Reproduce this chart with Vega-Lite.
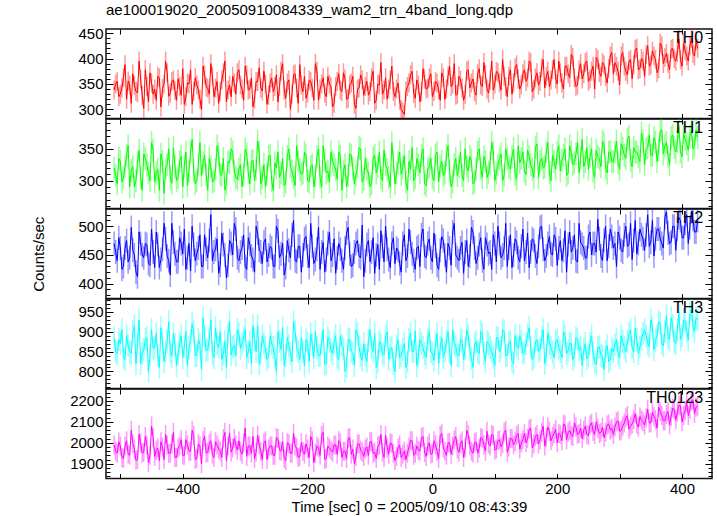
{
"$schema": "https://vega.github.io/schema/vega-lite/v6.json",
"background": "white",
"padding": {"left": 31, "top": 2, "right": 5, "bottom": 0},
"data": {"values": [
{"t":-510,"a":338,"b":320,"c":470,"d":885,"e":1990},
{"t":-505,"a":355,"b":295,"c":440,"d":845,"e":1950},
{"t":-500,"a":330,"b":330,"c":462,"d":870,"e":1985},
{"t":-495,"a":362,"b":305,"c":430,"d":835,"e":1925},
{"t":-490,"a":320,"b":340,"c":475,"d":890,"e":2010},
{"t":-485,"a":348,"b":290,"c":445,"d":850,"e":1940},
{"t":-480,"a":370,"b":322,"c":458,"d":900,"e":1995},
{"t":-475,"a":335,"b":300,"c":420,"d":820,"e":1915},
{"t":-470,"a":395,"b":348,"c":490,"d":930,"e":2040},
{"t":-465,"a":328,"b":285,"c":450,"d":845,"e":1950},
{"t":-460,"a":378,"b":335,"c":470,"d":880,"e":2030},
{"t":-455,"a":315,"b":312,"c":435,"d":800,"e":1905},
{"t":-450,"a":352,"b":360,"c":495,"d":905,"e":2080},
{"t":-445,"a":340,"b":298,"c":428,"d":860,"e":1935},
{"t":-440,"a":365,"b":318,"c":468,"d":840,"e":1975},
{"t":-435,"a":305,"b":342,"c":442,"d":910,"e":2005},
{"t":-430,"a":350,"b":280,"c":505,"d":825,"e":1920},
{"t":-425,"a":372,"b":325,"c":448,"d":875,"e":1990},
{"t":-420,"a":332,"b":305,"c":415,"d":850,"e":1950},
{"t":-415,"a":358,"b":352,"c":472,"d":895,"e":2050},
{"t":-410,"a":318,"b":300,"c":438,"d":815,"e":1930},
{"t":-405,"a":345,"b":330,"c":480,"d":870,"e":1985},
{"t":-400,"a":380,"b":290,"c":452,"d":835,"e":1940},
{"t":-395,"a":325,"b":345,"c":425,"d":900,"e":2015},
{"t":-390,"a":350,"b":315,"c":470,"d":860,"e":1960},
{"t":-385,"a":310,"b":365,"c":500,"d":920,"e":2060},
{"t":-380,"a":362,"b":295,"c":440,"d":840,"e":1920},
{"t":-375,"a":338,"b":325,"c":462,"d":880,"e":1995},
{"t":-370,"a":300,"b":308,"c":430,"d":805,"e":1900},
{"t":-365,"a":368,"b":340,"c":485,"d":890,"e":2030},
{"t":-360,"a":342,"b":285,"c":445,"d":855,"e":1955},
{"t":-355,"a":390,"b":322,"c":520,"d":930,"e":2010},
{"t":-350,"a":325,"b":300,"c":455,"d":835,"e":1930},
{"t":-345,"a":355,"b":355,"c":478,"d":870,"e":1990},
{"t":-340,"a":335,"b":310,"c":432,"d":900,"e":1960},
{"t":-335,"a":372,"b":335,"c":468,"d":845,"e":2020},
{"t":-330,"a":315,"b":295,"c":410,"d":810,"e":1915},
{"t":-325,"a":348,"b":328,"c":475,"d":925,"e":2045},
{"t":-320,"a":365,"b":345,"c":450,"d":860,"e":1975},
{"t":-315,"a":330,"b":305,"c":495,"d":840,"e":1990},
{"t":-310,"a":378,"b":318,"c":440,"d":895,"e":2010},
{"t":-305,"a":340,"b":290,"c":462,"d":870,"e":1945},
{"t":-300,"a":385,"b":350,"c":430,"d":905,"e":2070},
{"t":-295,"a":338,"b":312,"c":480,"d":850,"e":1985},
{"t":-290,"a":362,"b":330,"c":448,"d":820,"e":1950},
{"t":-285,"a":320,"b":300,"c":420,"d":880,"e":1925},
{"t":-280,"a":355,"b":362,"c":488,"d":915,"e":2035},
{"t":-275,"a":342,"b":295,"c":455,"d":845,"e":1960},
{"t":-270,"a":375,"b":325,"c":472,"d":870,"e":2000},
{"t":-265,"a":310,"b":310,"c":438,"d":830,"e":1920},
{"t":-260,"a":352,"b":340,"c":465,"d":890,"e":1985},
{"t":-255,"a":335,"b":285,"c":430,"d":860,"e":1940},
{"t":-250,"a":368,"b":320,"c":500,"d":800,"e":2025},
{"t":-245,"a":345,"b":305,"c":445,"d":875,"e":1965},
{"t":-240,"a":390,"b":335,"c":470,"d":910,"e":2005},
{"t":-235,"a":322,"b":298,"c":428,"d":840,"e":1915},
{"t":-230,"a":358,"b":350,"c":458,"d":865,"e":1995},
{"t":-225,"a":330,"b":315,"c":485,"d":825,"e":1950},
{"t":-220,"a":370,"b":292,"c":440,"d":900,"e":1985},
{"t":-215,"a":312,"b":330,"c":465,"d":850,"e":1930},
{"t":-210,"a":348,"b":310,"c":420,"d":885,"e":2000},
{"t":-205,"a":365,"b":345,"c":478,"d":815,"e":1945},
{"t":-200,"a":332,"b":300,"c":448,"d":870,"e":1970},
{"t":-195,"a":355,"b":322,"c":505,"d":895,"e":2030},
{"t":-190,"a":318,"b":290,"c":435,"d":835,"e":1905},
{"t":-185,"a":375,"b":338,"c":460,"d":860,"e":1985},
{"t":-180,"a":340,"b":305,"c":425,"d":840,"e":1940},
{"t":-175,"a":362,"b":355,"c":472,"d":905,"e":2050},
{"t":-170,"a":325,"b":312,"c":442,"d":820,"e":1925},
{"t":-165,"a":350,"b":298,"c":490,"d":875,"e":1975},
{"t":-160,"a":305,"b":330,"c":450,"d":845,"e":1955},
{"t":-155,"a":345,"b":318,"c":418,"d":890,"e":1990},
{"t":-150,"a":370,"b":345,"c":470,"d":830,"e":2010},
{"t":-145,"a":335,"b":285,"c":440,"d":865,"e":1930},
{"t":-140,"a":360,"b":325,"c":462,"d":800,"e":1960},
{"t":-135,"a":322,"b":308,"c":498,"d":880,"e":2020},
{"t":-130,"a":352,"b":340,"c":430,"d":850,"e":1945},
{"t":-125,"a":310,"b":295,"c":455,"d":815,"e":1900},
{"t":-120,"a":340,"b":322,"c":475,"d":895,"e":1995},
{"t":-115,"a":368,"b":350,"c":445,"d":840,"e":1965},
{"t":-110,"a":328,"b":302,"c":412,"d":870,"e":1935},
{"t":-105,"a":355,"b":318,"c":468,"d":825,"e":1980},
{"t":-100,"a":335,"b":290,"c":438,"d":905,"e":2005},
{"t":-95,"a":375,"b":335,"c":480,"d":850,"e":1950},
{"t":-90,"a":318,"b":312,"c":450,"d":810,"e":1925},
{"t":-85,"a":348,"b":345,"c":425,"d":875,"e":1990},
{"t":-80,"a":330,"b":300,"c":465,"d":845,"e":1955},
{"t":-75,"a":362,"b":325,"c":500,"d":890,"e":2035},
{"t":-70,"a":340,"b":305,"c":442,"d":830,"e":1945},
{"t":-65,"a":385,"b":360,"c":470,"d":860,"e":1995},
{"t":-60,"a":325,"b":295,"c":435,"d":800,"e":1915},
{"t":-55,"a":352,"b":328,"c":458,"d":880,"e":1975},
{"t":-50,"a":300,"b":310,"c":420,"d":840,"e":1930},
{"t":-45,"a":290,"b":340,"c":485,"d":870,"e":1960},
{"t":-40,"a":345,"b":285,"c":448,"d":825,"e":1950},
{"t":-35,"a":368,"b":318,"c":472,"d":895,"e":2010},
{"t":-30,"a":332,"b":300,"c":440,"d":850,"e":1940},
{"t":-25,"a":358,"b":335,"c":462,"d":815,"e":1985},
{"t":-20,"a":315,"b":312,"c":430,"d":880,"e":1960},
{"t":-15,"a":380,"b":350,"c":495,"d":860,"e":2030},
{"t":-10,"a":340,"b":292,"c":445,"d":835,"e":1935},
{"t":-5,"a":362,"b":322,"c":478,"d":900,"e":2000},
{"t":0,"a":325,"b":305,"c":438,"d":845,"e":1950},
{"t":5,"a":355,"b":340,"c":465,"d":870,"e":1990},
{"t":10,"a":338,"b":298,"c":425,"d":820,"e":1925},
{"t":15,"a":372,"b":330,"c":482,"d":885,"e":2045},
{"t":20,"a":320,"b":312,"c":450,"d":850,"e":1960},
{"t":25,"a":365,"b":355,"c":470,"d":900,"e":2000},
{"t":30,"a":345,"b":290,"c":432,"d":815,"e":1945},
{"t":35,"a":390,"b":325,"c":505,"d":870,"e":2015},
{"t":40,"a":330,"b":308,"c":445,"d":840,"e":1970},
{"t":45,"a":358,"b":345,"c":462,"d":880,"e":1995},
{"t":50,"a":318,"b":300,"c":418,"d":830,"e":1930},
{"t":55,"a":375,"b":322,"c":475,"d":905,"e":2060},
{"t":60,"a":342,"b":338,"c":448,"d":855,"e":1985},
{"t":65,"a":360,"b":295,"c":490,"d":810,"e":1950},
{"t":70,"a":328,"b":318,"c":435,"d":875,"e":2005},
{"t":75,"a":380,"b":350,"c":468,"d":845,"e":1975},
{"t":80,"a":345,"b":305,"c":440,"d":895,"e":2020},
{"t":85,"a":368,"b":330,"c":480,"d":825,"e":1960},
{"t":90,"a":332,"b":312,"c":452,"d":870,"e":1995},
{"t":95,"a":395,"b":360,"c":425,"d":850,"e":2040},
{"t":100,"a":350,"b":300,"c":470,"d":815,"e":1965},
{"t":105,"a":372,"b":325,"c":500,"d":885,"e":2010},
{"t":110,"a":338,"b":342,"c":445,"d":860,"e":1980},
{"t":115,"a":365,"b":308,"c":462,"d":900,"e":2050},
{"t":120,"a":325,"b":335,"c":430,"d":840,"e":1955},
{"t":125,"a":378,"b":318,"c":485,"d":875,"e":2020},
{"t":130,"a":352,"b":350,"c":450,"d":820,"e":1990},
{"t":135,"a":388,"b":302,"c":472,"d":865,"e":2035},
{"t":140,"a":340,"b":328,"c":438,"d":890,"e":1970},
{"t":145,"a":370,"b":345,"c":495,"d":845,"e":2015},
{"t":150,"a":355,"b":310,"c":455,"d":870,"e":2000},
{"t":155,"a":395,"b":338,"c":428,"d":910,"e":2065},
{"t":160,"a":335,"b":318,"c":478,"d":830,"e":1975},
{"t":165,"a":362,"b":352,"c":448,"d":875,"e":2030},
{"t":170,"a":348,"b":305,"c":465,"d":850,"e":1995},
{"t":175,"a":382,"b":335,"c":500,"d":885,"e":2050},
{"t":180,"a":342,"b":322,"c":440,"d":820,"e":1985},
{"t":185,"a":375,"b":360,"c":470,"d":895,"e":2075},
{"t":190,"a":358,"b":300,"c":452,"d":860,"e":2010},
{"t":195,"a":398,"b":330,"c":485,"d":835,"e":2045},
{"t":200,"a":350,"b":345,"c":432,"d":880,"e":2000},
{"t":205,"a":372,"b":315,"c":475,"d":850,"e":2040},
{"t":210,"a":340,"b":340,"c":458,"d":900,"e":2090},
{"t":215,"a":385,"b":308,"c":420,"d":845,"e":2015},
{"t":220,"a":362,"b":355,"c":490,"d":870,"e":2060},
{"t":225,"a":402,"b":325,"c":462,"d":830,"e":2030},
{"t":230,"a":345,"b":342,"c":440,"d":885,"e":2075},
{"t":235,"a":378,"b":312,"c":505,"d":855,"e":2045},
{"t":240,"a":360,"b":365,"c":468,"d":815,"e":2020},
{"t":245,"a":392,"b":330,"c":445,"d":870,"e":2080},
{"t":250,"a":355,"b":318,"c":482,"d":840,"e":2035},
{"t":255,"a":375,"b":350,"c":450,"d":890,"e":2095},
{"t":260,"a":340,"b":305,"c":470,"d":825,"e":2040},
{"t":265,"a":398,"b":338,"c":512,"d":860,"e":2070},
{"t":270,"a":365,"b":322,"c":448,"d":840,"e":2050},
{"t":275,"a":388,"b":358,"c":475,"d":805,"e":2025},
{"t":280,"a":352,"b":312,"c":440,"d":865,"e":2085},
{"t":285,"a":405,"b":345,"c":495,"d":830,"e":2060},
{"t":290,"a":370,"b":330,"c":462,"d":850,"e":2040},
{"t":295,"a":385,"b":362,"c":430,"d":880,"e":2100},
{"t":300,"a":348,"b":318,"c":480,"d":835,"e":2055},
{"t":305,"a":412,"b":350,"c":455,"d":875,"e":2080},
{"t":310,"a":375,"b":335,"c":500,"d":850,"e":2120},
{"t":315,"a":395,"b":370,"c":468,"d":895,"e":2065},
{"t":320,"a":360,"b":322,"c":442,"d":860,"e":2090},
{"t":325,"a":418,"b":345,"c":510,"d":910,"e":2140},
{"t":330,"a":378,"b":338,"c":470,"d":845,"e":2075},
{"t":335,"a":400,"b":375,"c":485,"d":880,"e":2110},
{"t":340,"a":365,"b":325,"c":458,"d":905,"e":2085},
{"t":345,"a":425,"b":352,"c":520,"d":870,"e":2160},
{"t":350,"a":388,"b":340,"c":472,"d":930,"e":2095},
{"t":355,"a":405,"b":368,"c":448,"d":855,"e":2125},
{"t":360,"a":372,"b":330,"c":495,"d":890,"e":2070},
{"t":365,"a":430,"b":378,"c":478,"d":920,"e":2150},
{"t":370,"a":390,"b":342,"c":462,"d":865,"e":2105},
{"t":375,"a":410,"b":360,"c":525,"d":940,"e":2135},
{"t":380,"a":378,"b":325,"c":470,"d":880,"e":2085},
{"t":385,"a":420,"b":372,"c":500,"d":915,"e":2165},
{"t":390,"a":395,"b":345,"c":458,"d":870,"e":2110},
{"t":395,"a":438,"b":385,"c":515,"d":950,"e":2180},
{"t":400,"a":385,"b":338,"c":480,"d":890,"e":2100},
{"t":405,"a":415,"b":365,"c":505,"d":925,"e":2155},
{"t":410,"a":395,"b":348,"c":470,"d":880,"e":2130},
{"t":415,"a":440,"b":380,"c":525,"d":955,"e":2200},
{"t":420,"a":405,"b":355,"c":490,"d":900,"e":2140},
{"t":425,"a":420,"b":368,"c":510,"d":930,"e":2175},
{"t":-507.5,"a":350,"b":308,"c":455,"d":850,"e":1960},
{"t":-502.5,"a":325,"b":335,"c":480,"d":880,"e":2005},
{"t":-497.5,"a":342,"b":298,"c":425,"d":905,"e":1930},
{"t":-492.5,"a":388,"b":322,"c":462,"d":830,"e":1985},
{"t":-487.5,"a":356,"b":355,"c":438,"d":865,"e":1945},
{"t":-482.5,"a":312,"b":316,"c":498,"d":845,"e":2060},
{"t":-477.5,"a":347,"b":290,"c":450,"d":915,"e":1970},
{"t":-472.5,"a":333,"b":328,"c":412,"d":870,"e":1920},
{"t":-467.5,"a":360,"b":305,"c":470,"d":820,"e":2000},
{"t":-462.5,"a":302,"b":342,"c":445,"d":855,"e":1955},
{"t":-457.5,"a":345,"b":325,"c":468,"d":885,"e":1990},
{"t":-452.5,"a":372,"b":300,"c":432,"d":840,"e":1940},
{"t":-447.5,"a":330,"b":348,"c":455,"d":858,"e":2025},
{"t":-442.5,"a":318,"b":312,"c":490,"d":895,"e":1965},
{"t":-437.5,"a":362,"b":285,"c":428,"d":810,"e":1915},
{"t":-432.5,"a":341,"b":330,"c":460,"d":872,"e":1980},
{"t":-427.5,"a":395,"b":318,"c":478,"d":850,"e":2040},
{"t":-422.5,"a":326,"b":350,"c":440,"d":925,"e":1950},
{"t":-417.5,"a":355,"b":296,"c":505,"d":838,"e":1995},
{"t":-412.5,"a":337,"b":322,"c":452,"d":868,"e":1930},
{"t":-407.5,"a":360,"b":305,"c":438,"d":845,"e":1975},
{"t":-402.5,"a":328,"b":338,"c":470,"d":890,"e":2015},
{"t":-397.5,"a":310,"b":322,"c":495,"d":862,"e":1940},
{"t":-392.5,"a":352,"b":292,"c":445,"d":815,"e":1990},
{"t":-387.5,"a":378,"b":345,"c":422,"d":878,"e":1960},
{"t":-382.5,"a":335,"b":315,"c":468,"d":900,"e":2035},
{"t":-377.5,"a":348,"b":300,"c":452,"d":840,"e":1925},
{"t":-372.5,"a":320,"b":360,"c":485,"d":868,"e":1985},
{"t":-367.5,"a":385,"b":328,"c":430,"d":935,"e":2010},
{"t":-362.5,"a":344,"b":310,"c":460,"d":852,"e":1950},
{"t":-357.5,"a":330,"b":335,"c":475,"d":880,"e":1995},
{"t":-352.5,"a":365,"b":298,"c":440,"d":845,"e":1945},
{"t":-347.5,"a":342,"b":318,"c":460,"d":910,"e":2005},
{"t":-342.5,"a":312,"b":342,"c":418,"d":860,"e":1970},
{"t":-337.5,"a":358,"b":308,"c":488,"d":830,"e":1930},
{"t":-332.5,"a":395,"b":285,"c":450,"d":875,"e":2050},
{"t":-327.5,"a":338,"b":330,"c":432,"d":895,"e":1985},
{"t":-322.5,"a":325,"b":350,"c":470,"d":842,"e":1955},
{"t":-317.5,"a":352,"b":315,"c":505,"d":865,"e":2020},
{"t":-312.5,"a":372,"b":302,"c":445,"d":905,"e":1965},
{"t":-307.5,"a":348,"b":325,"c":455,"d":858,"e":1960},
{"t":-302.5,"a":318,"b":310,"c":485,"d":885,"e":2000},
{"t":-297.5,"a":368,"b":342,"c":425,"d":835,"e":1935},
{"t":-292.5,"a":340,"b":295,"c":468,"d":875,"e":1985},
{"t":-287.5,"a":305,"b":332,"c":442,"d":915,"e":2030},
{"t":-282.5,"a":355,"b":318,"c":500,"d":850,"e":1955},
{"t":-277.5,"a":382,"b":345,"c":458,"d":820,"e":1990},
{"t":-272.5,"a":336,"b":305,"c":435,"d":890,"e":1920},
{"t":-267.5,"a":350,"b":290,"c":478,"d":860,"e":2010},
{"t":-262.5,"a":328,"b":338,"c":450,"d":838,"e":1970},
{"t":-257.5,"a":362,"b":300,"c":462,"d":870,"e":1985},
{"t":-252.5,"a":345,"b":328,"c":430,"d":840,"e":1940},
{"t":-247.5,"a":315,"b":345,"c":492,"d":900,"e":2020},
{"t":-242.5,"a":375,"b":312,"c":452,"d":855,"e":1960},
{"t":-237.5,"a":338,"b":292,"c":415,"d":815,"e":1925},
{"t":-232.5,"a":352,"b":338,"c":475,"d":885,"e":2000},
{"t":-227.5,"a":300,"b":322,"c":445,"d":845,"e":1950},
{"t":-222.5,"a":368,"b":305,"c":510,"d":925,"e":2045},
{"t":-217.5,"a":342,"b":355,"c":438,"d":862,"e":1975},
{"t":-212.5,"a":388,"b":318,"c":465,"d":830,"e":1935},
{"t":-207.5,"a":335,"b":312,"c":450,"d":850,"e":1960},
{"t":-202.5,"a":322,"b":340,"c":482,"d":880,"e":1995},
{"t":-197.5,"a":358,"b":298,"c":428,"d":825,"e":1930},
{"t":-192.5,"a":342,"b":325,"c":465,"d":868,"e":2010},
{"t":-187.5,"a":390,"b":308,"c":442,"d":900,"e":1950},
{"t":-182.5,"a":318,"b":350,"c":498,"d":840,"e":1975},
{"t":-177.5,"a":350,"b":290,"c":455,"d":872,"e":2035},
{"t":-172.5,"a":332,"b":332,"c":420,"d":818,"e":1920},
{"t":-167.5,"a":365,"b":315,"c":470,"d":885,"e":1985},
{"t":-162.5,"a":345,"b":345,"c":440,"d":855,"e":1965},
{"t":-157.5,"a":312,"b":325,"c":478,"d":872,"e":1990},
{"t":-152.5,"a":355,"b":302,"c":445,"d":835,"e":1945},
{"t":-147.5,"a":338,"b":338,"c":460,"d":890,"e":2000},
{"t":-142.5,"a":372,"b":315,"c":425,"d":858,"e":1960},
{"t":-137.5,"a":320,"b":290,"c":488,"d":812,"e":1925},
{"t":-132.5,"a":348,"b":342,"c":452,"d":880,"e":2025},
{"t":-127.5,"a":365,"b":320,"c":432,"d":845,"e":1970},
{"t":-122.5,"a":302,"b":308,"c":470,"d":905,"e":1935},
{"t":-117.5,"a":342,"b":352,"c":448,"d":862,"e":1995},
{"t":-112.5,"a":358,"b":298,"c":502,"d":828,"e":1955},
{"t":-107.5,"a":345,"b":335,"c":440,"d":840,"e":1970},
{"t":-102.5,"a":328,"b":312,"c":475,"d":878,"e":1940},
{"t":-97.5,"a":362,"b":295,"c":455,"d":860,"e":2005},
{"t":-92.5,"a":312,"b":340,"c":418,"d":895,"e":1955},
{"t":-87.5,"a":350,"b":322,"c":468,"d":825,"e":1985},
{"t":-82.5,"a":392,"b":305,"c":492,"d":868,"e":2040},
{"t":-77.5,"a":338,"b":348,"c":438,"d":842,"e":1930},
{"t":-72.5,"a":320,"b":318,"c":460,"d":900,"e":1975},
{"t":-67.5,"a":358,"b":290,"c":428,"d":858,"e":2000},
{"t":-62.5,"a":335,"b":330,"c":480,"d":820,"e":1950},
{"t":-57.5,"a":340,"b":312,"c":462,"d":865,"e":1935},
{"t":-52.5,"a":318,"b":345,"c":435,"d":835,"e":1990},
{"t":-47.5,"a":295,"b":320,"c":470,"d":855,"e":1945},
{"t":-42.5,"a":335,"b":298,"c":440,"d":810,"e":1920},
{"t":-37.5,"a":352,"b":330,"c":495,"d":880,"e":1980},
{"t":-32.5,"a":375,"b":352,"c":452,"d":850,"e":2010},
{"t":-27.5,"a":322,"b":305,"c":425,"d":902,"e":1950},
{"t":-22.5,"a":348,"b":325,"c":465,"d":838,"e":1965},
{"t":-17.5,"a":335,"b":340,"c":485,"d":870,"e":2025},
{"t":-12.5,"a":360,"b":295,"c":448,"d":845,"e":1955},
{"t":-7.5,"a":342,"b":318,"c":470,"d":880,"e":1985},
{"t":-2.5,"a":370,"b":335,"c":445,"d":850,"e":1945},
{"t":2.5,"a":335,"b":300,"c":488,"d":828,"e":2010},
{"t":7.5,"a":352,"b":345,"c":432,"d":895,"e":1960},
{"t":12.5,"a":318,"b":322,"c":458,"d":860,"e":2035},
{"t":17.5,"a":362,"b":308,"c":475,"d":835,"e":1975},
{"t":22.5,"a":340,"b":340,"c":420,"d":875,"e":1940},
{"t":27.5,"a":385,"b":315,"c":462,"d":848,"e":2000},
{"t":32.5,"a":350,"b":298,"c":490,"d":905,"e":1985},
{"t":37.5,"a":328,"b":335,"c":450,"d":862,"e":2030},
{"t":42.5,"a":365,"b":322,"c":440,"d":840,"e":1955},
{"t":47.5,"a":342,"b":308,"c":472,"d":878,"e":2010},
{"t":52.5,"a":330,"b":350,"c":455,"d":858,"e":1975},
{"t":57.5,"a":378,"b":315,"c":430,"d":890,"e":2040},
{"t":62.5,"a":352,"b":332,"c":498,"d":832,"e":1960},
{"t":67.5,"a":335,"b":298,"c":462,"d":868,"e":2000},
{"t":72.5,"a":370,"b":345,"c":445,"d":850,"e":1950},
{"t":77.5,"a":348,"b":320,"c":480,"d":900,"e":2025},
{"t":82.5,"a":392,"b":338,"c":425,"d":845,"e":1990},
{"t":87.5,"a":340,"b":305,"c":468,"d":875,"e":2055},
{"t":92.5,"a":358,"b":328,"c":455,"d":860,"e":1985},
{"t":97.5,"a":338,"b":345,"c":485,"d":835,"e":2035},
{"t":102.5,"a":375,"b":312,"c":438,"d":885,"e":1970},
{"t":107.5,"a":352,"b":335,"c":470,"d":850,"e":2015},
{"t":112.5,"a":398,"b":300,"c":450,"d":905,"e":1995},
{"t":117.5,"a":345,"b":350,"c":505,"d":840,"e":2060},
{"t":122.5,"a":365,"b":322,"c":462,"d":872,"e":1980},
{"t":127.5,"a":330,"b":338,"c":428,"d":825,"e":2020},
{"t":132.5,"a":382,"b":310,"c":478,"d":890,"e":2005},
{"t":137.5,"a":360,"b":355,"c":445,"d":858,"e":2045},
{"t":142.5,"a":348,"b":335,"c":465,"d":875,"e":2000},
{"t":147.5,"a":378,"b":315,"c":440,"d":848,"e":2045},
{"t":152.5,"a":362,"b":348,"c":488,"d":892,"e":2020},
{"t":157.5,"a":392,"b":325,"c":455,"d":860,"e":2070},
{"t":162.5,"a":340,"b":305,"c":475,"d":835,"e":1995},
{"t":167.5,"a":372,"b":358,"c":435,"d":880,"e":2040},
{"t":172.5,"a":355,"b":330,"c":498,"d":855,"e":2015},
{"t":177.5,"a":398,"b":320,"c":460,"d":905,"e":2080},
{"t":182.5,"a":365,"b":345,"c":448,"d":842,"e":2025},
{"t":187.5,"a":345,"b":312,"c":482,"d":870,"e":2055},
{"t":192.5,"a":378,"b":340,"c":450,"d":848,"e":2030},
{"t":197.5,"a":360,"b":318,"c":478,"d":875,"e":2065},
{"t":202.5,"a":395,"b":355,"c":462,"d":860,"e":2045},
{"t":207.5,"a":352,"b":332,"c":440,"d":835,"e":2010},
{"t":212.5,"a":385,"b":350,"c":492,"d":890,"e":2085},
{"t":217.5,"a":370,"b":312,"c":468,"d":852,"e":2050},
{"t":222.5,"a":408,"b":345,"c":455,"d":870,"e":2035},
{"t":227.5,"a":362,"b":328,"c":485,"d":840,"e":2095},
{"t":232.5,"a":348,"b":360,"c":438,"d":880,"e":2040},
{"t":237.5,"a":390,"b":335,"c":472,"d":862,"e":2070},
{"t":242.5,"a":370,"b":322,"c":462,"d":855,"e":2060},
{"t":247.5,"a":395,"b":352,"c":445,"d":832,"e":2040},
{"t":252.5,"a":360,"b":338,"c":490,"d":870,"e":2085},
{"t":257.5,"a":385,"b":315,"c":470,"d":845,"e":2055},
{"t":262.5,"a":402,"b":348,"c":455,"d":818,"e":2100},
{"t":267.5,"a":372,"b":335,"c":478,"d":862,"e":2045},
{"t":272.5,"a":392,"b":362,"c":440,"d":838,"e":2075},
{"t":277.5,"a":365,"b":320,"c":500,"d":850,"e":2050},
{"t":282.5,"a":380,"b":345,"c":465,"d":825,"e":2090},
{"t":287.5,"a":412,"b":330,"c":482,"d":858,"e":2070},
{"t":292.5,"a":392,"b":345,"c":470,"d":868,"e":2075},
{"t":297.5,"a":375,"b":328,"c":490,"d":845,"e":2105},
{"t":302.5,"a":405,"b":358,"c":458,"d":890,"e":2060},
{"t":307.5,"a":385,"b":340,"c":485,"d":860,"e":2095},
{"t":312.5,"a":368,"b":365,"c":465,"d":875,"e":2130},
{"t":317.5,"a":398,"b":332,"c":505,"d":905,"e":2080},
{"t":322.5,"a":388,"b":352,"c":475,"d":850,"e":2110},
{"t":327.5,"a":420,"b":345,"c":452,"d":880,"e":2090},
{"t":332.5,"a":380,"b":330,"c":495,"d":862,"e":2125},
{"t":337.5,"a":395,"b":362,"c":478,"d":895,"e":2100},
{"t":342.5,"a":408,"b":350,"c":485,"d":890,"e":2120},
{"t":347.5,"a":385,"b":372,"c":465,"d":862,"e":2095},
{"t":352.5,"a":415,"b":340,"c":510,"d":910,"e":2145},
{"t":357.5,"a":398,"b":360,"c":478,"d":878,"e":2110},
{"t":362.5,"a":380,"b":348,"c":495,"d":925,"e":2170},
{"t":367.5,"a":425,"b":380,"c":470,"d":870,"e":2130},
{"t":372.5,"a":402,"b":355,"c":515,"d":900,"e":2105},
{"t":377.5,"a":390,"b":338,"c":488,"d":885,"e":2150},
{"t":382.5,"a":418,"b":368,"c":472,"d":935,"e":2125},
{"t":387.5,"a":400,"b":352,"c":500,"d":875,"e":2160},
{"t":392.5,"a":412,"b":362,"c":495,"d":905,"e":2145},
{"t":397.5,"a":398,"b":345,"c":510,"d":880,"e":2175},
{"t":402.5,"a":430,"b":375,"c":480,"d":930,"e":2130},
{"t":407.5,"a":405,"b":358,"c":520,"d":900,"e":2190},
{"t":412.5,"a":425,"b":370,"c":498,"d":945,"e":2160},
{"t":417.5,"a":410,"b":350,"c":512,"d":915,"e":2205},
{"t":422.5,"a":435,"b":380,"c":490,"d":935,"e":2170}
]},
"spacing": 0,
"bounds": "flush",
"vconcat": [
{
"width": 606, "height": 89.6,
"title": {"text": "ae100019020_20050910084339_wam2_trn_4band_long.qdp", "anchor": "start", "frame": "group", "fontSize": 15, "font": "Liberation Sans", "fontWeight": "normal", "color": "#000", "offset": 5},
"layer": [
{"mark": {"type": "tick", "orient": "vertical", "size": 19, "thickness": 1.5, "color": "#ff0000", "opacity": 0.4, "clip": true},
 "encoding": {
  "x": {"field": "t", "type": "quantitative", "scale": {"domain": [-523, 448], "nice": false}, "axis": {"orient": "bottom", "values": [-500,-400,-300,-200,-100,0,100,200,300,400], "tickSize": 5, "offset": -5, "labels": false, "title": null}},
  "y": {"field": "a", "type": "quantitative", "scale": {"domain": [282, 458], "nice": false, "zero": false}, "axis": {"orient": "left", "values": [300,350,400,450], "format": "d", "tickSize": 7, "offset": -7, "labelPadding": 3, "title": null}}}},
{"mark": {"type": "line", "color": "#ff0000", "strokeWidth": 1, "clip": true},
 "encoding": {
  "x": {"field": "t", "type": "quantitative", "axis": {"orient": "top", "values": [-500,-400,-300,-200,-100,0,100,200,300,400], "tickSize": 5, "offset": -5, "labels": false, "title": null}},
  "y": {"field": "a", "type": "quantitative", "axis": {"orient": "right", "values": [300,350,400,450], "tickSize": 7, "offset": -7, "labels": false, "title": null}}}},
{"data": {"values": [{}]},
 "mark": {"type": "text", "text": "TH0", "align": "right", "baseline": "top", "fontSize": 16, "font": "Liberation Sans", "color": "#000", "dy": 1},
 "encoding": {
  "x": {"datum": 434, "type": "quantitative", "axis": null},
  "y": {"datum": 458, "type": "quantitative", "axis": {"orient": "left", "values": [290,300,310,320,330,340,350,360,370,380,390,400,410,420,430,440,450], "tickSize": 4, "offset": -4, "labels": false, "title": null}}}},
{"data": {"values": [{}]},
 "mark": {"type": "text", "text": ""},
 "encoding": {
  "x": {"datum": 434, "type": "quantitative", "axis": null},
  "y": {"datum": 458, "type": "quantitative", "axis": {"orient": "right", "values": [290,300,310,320,330,340,350,360,370,380,390,400,410,420,430,440,450], "tickSize": 4, "offset": -4, "labels": false, "title": null}}}}
],
"resolve": {"axis": {"x": "independent", "y": "independent"}}
},
{
"width": 606, "height": 89.6,
"layer": [
{"mark": {"type": "tick", "orient": "vertical", "size": 23, "thickness": 1.5, "color": "#00ff00", "opacity": 0.4, "clip": true},
 "encoding": {
  "x": {"field": "t", "type": "quantitative", "scale": {"domain": [-523, 448], "nice": false}, "axis": {"orient": "bottom", "values": [-500,-400,-300,-200,-100,0,100,200,300,400], "tickSize": 5, "offset": -5, "labels": false, "title": null}},
  "y": {"field": "b", "type": "quantitative", "scale": {"domain": [256, 397], "nice": false, "zero": false}, "axis": {"orient": "left", "values": [300,350], "format": "d", "tickSize": 7, "offset": -7, "labelPadding": 3, "title": null}}}},
{"mark": {"type": "line", "color": "#00ff00", "strokeWidth": 1, "clip": true},
 "encoding": {
  "x": {"field": "t", "type": "quantitative", "axis": {"orient": "top", "values": [-500,-400,-300,-200,-100,0,100,200,300,400], "tickSize": 5, "offset": -5, "labels": false, "title": null}},
  "y": {"field": "b", "type": "quantitative", "axis": {"orient": "right", "values": [300,350], "tickSize": 7, "offset": -7, "labels": false, "title": null}}}},
{"data": {"values": [{}]},
 "mark": {"type": "text", "text": "TH1", "align": "right", "baseline": "top", "fontSize": 16, "font": "Liberation Sans", "color": "#000", "dy": 1},
 "encoding": {
  "x": {"datum": 434, "type": "quantitative", "axis": null},
  "y": {"datum": 397, "type": "quantitative", "axis": {"orient": "left", "values": [260,270,280,290,300,310,320,330,340,350,360,370,380,390], "tickSize": 4, "offset": -4, "labels": false, "title": null}}}},
{"data": {"values": [{}]},
 "mark": {"type": "text", "text": ""},
 "encoding": {
  "x": {"datum": 434, "type": "quantitative", "axis": null},
  "y": {"datum": 397, "type": "quantitative", "axis": {"orient": "right", "values": [260,270,280,290,300,310,320,330,340,350,360,370,380,390], "tickSize": 4, "offset": -4, "labels": false, "title": null}}}}
],
"resolve": {"axis": {"x": "independent", "y": "independent"}}
},
{
"width": 606, "height": 89.6,
"layer": [
{"mark": {"type": "tick", "orient": "vertical", "size": 24, "thickness": 1.5, "color": "#0000ff", "opacity": 0.4, "clip": true},
 "encoding": {
  "x": {"field": "t", "type": "quantitative", "scale": {"domain": [-523, 448], "nice": false}, "axis": {"orient": "bottom", "values": [-500,-400,-300,-200,-100,0,100,200,300,400], "tickSize": 5, "offset": -5, "labels": false, "title": null}},
  "y": {"field": "c", "type": "quantitative", "scale": {"domain": [374, 530], "nice": false, "zero": false}, "axis": {"orient": "left", "values": [400,450,500], "format": "d", "tickSize": 7, "offset": -7, "labelPadding": 3, "title": "Counts/sec", "titlePadding": 31}}}},
{"mark": {"type": "line", "color": "#0000ff", "strokeWidth": 1, "clip": true},
 "encoding": {
  "x": {"field": "t", "type": "quantitative", "axis": {"orient": "top", "values": [-500,-400,-300,-200,-100,0,100,200,300,400], "tickSize": 5, "offset": -5, "labels": false, "title": null}},
  "y": {"field": "c", "type": "quantitative", "axis": {"orient": "right", "values": [400,450,500], "tickSize": 7, "offset": -7, "labels": false, "title": null}}}},
{"data": {"values": [{}]},
 "mark": {"type": "text", "text": "TH2", "align": "right", "baseline": "top", "fontSize": 16, "font": "Liberation Sans", "color": "#000", "dy": 1},
 "encoding": {
  "x": {"datum": 434, "type": "quantitative", "axis": null},
  "y": {"datum": 530, "type": "quantitative", "axis": {"orient": "left", "values": [380,390,400,410,420,430,440,450,460,470,480,490,500,510,520], "tickSize": 4, "offset": -4, "labels": false, "title": null}}}},
{"data": {"values": [{}]},
 "mark": {"type": "text", "text": ""},
 "encoding": {
  "x": {"datum": 434, "type": "quantitative", "axis": null},
  "y": {"datum": 530, "type": "quantitative", "axis": {"orient": "right", "values": [380,390,400,410,420,430,440,450,460,470,480,490,500,510,520], "tickSize": 4, "offset": -4, "labels": false, "title": null}}}}
],
"resolve": {"axis": {"x": "independent", "y": "independent"}}
},
{
"width": 606, "height": 89.6,
"layer": [
{"mark": {"type": "tick", "orient": "vertical", "size": 23, "thickness": 1.5, "color": "#00ffff", "opacity": 0.4, "clip": true},
 "encoding": {
  "x": {"field": "t", "type": "quantitative", "scale": {"domain": [-523, 448], "nice": false}, "axis": {"orient": "bottom", "values": [-500,-400,-300,-200,-100,0,100,200,300,400], "tickSize": 5, "offset": -5, "labels": false, "title": null}},
  "y": {"field": "d", "type": "quantitative", "scale": {"domain": [757, 982], "nice": false, "zero": false}, "axis": {"orient": "left", "values": [800,850,900,950], "format": "d", "tickSize": 7, "offset": -7, "labelPadding": 3, "title": null}}}},
{"mark": {"type": "line", "color": "#00ffff", "strokeWidth": 1, "clip": true},
 "encoding": {
  "x": {"field": "t", "type": "quantitative", "axis": {"orient": "top", "values": [-500,-400,-300,-200,-100,0,100,200,300,400], "tickSize": 5, "offset": -5, "labels": false, "title": null}},
  "y": {"field": "d", "type": "quantitative", "axis": {"orient": "right", "values": [800,850,900,950], "tickSize": 7, "offset": -7, "labels": false, "title": null}}}},
{"data": {"values": [{}]},
 "mark": {"type": "text", "text": "TH3", "align": "right", "baseline": "top", "fontSize": 16, "font": "Liberation Sans", "color": "#000", "dy": 1},
 "encoding": {
  "x": {"datum": 434, "type": "quantitative", "axis": null},
  "y": {"datum": 982, "type": "quantitative", "axis": {"orient": "left", "values": [760,770,780,790,800,810,820,830,840,850,860,870,880,890,900,910,920,930,940,950,960,970,980], "tickSize": 4, "offset": -4, "labels": false, "title": null}}}},
{"data": {"values": [{}]},
 "mark": {"type": "text", "text": ""},
 "encoding": {
  "x": {"datum": 434, "type": "quantitative", "axis": null},
  "y": {"datum": 982, "type": "quantitative", "axis": {"orient": "right", "values": [760,770,780,790,800,810,820,830,840,850,860,870,880,890,900,910,920,930,940,950,960,970,980], "tickSize": 4, "offset": -4, "labels": false, "title": null}}}}
],
"resolve": {"axis": {"x": "independent", "y": "independent"}}
},
{
"width": 606, "height": 89.6,
"layer": [
{"mark": {"type": "tick", "orient": "vertical", "size": 19, "thickness": 1.5, "color": "#ff00ff", "opacity": 0.4, "clip": true},
 "encoding": {
  "x": {"field": "t", "type": "quantitative", "scale": {"domain": [-523, 448], "nice": false}, "axis": {"orient": "bottom", "values": [-500,-400,-300,-200,-100,0,100,200,300,400], "tickSize": 5, "offset": -5, "labels": true, "labelExpr": "datum.value % 200 === 0 ? datum.label : ''", "labelPadding": 3, "title": "Time [sec] 0 = 2005/09/10 08:43:39", "titlePadding": 3}},
  "y": {"field": "e", "type": "quantitative", "scale": {"domain": [1829, 2257], "nice": false, "zero": false}, "axis": {"orient": "left", "values": [1900,2000,2100,2200], "format": "d", "tickSize": 7, "offset": -7, "labelPadding": 3, "title": null}}}},
{"mark": {"type": "line", "color": "#ff00ff", "strokeWidth": 1, "clip": true},
 "encoding": {
  "x": {"field": "t", "type": "quantitative", "axis": {"orient": "top", "values": [-500,-400,-300,-200,-100,0,100,200,300,400], "tickSize": 5, "offset": -5, "labels": false, "title": null}},
  "y": {"field": "e", "type": "quantitative", "axis": {"orient": "right", "values": [1900,2000,2100,2200], "tickSize": 7, "offset": -7, "labels": false, "title": null}}}},
{"data": {"values": [{}]},
 "mark": {"type": "text", "text": "TH0123", "align": "right", "baseline": "top", "fontSize": 16, "font": "Liberation Sans", "color": "#000", "dy": 1},
 "encoding": {
  "x": {"datum": 434, "type": "quantitative", "axis": null},
  "y": {"datum": 2257, "type": "quantitative", "axis": {"orient": "left", "values": [1840,1860,1880,1900,1920,1940,1960,1980,2000,2020,2040,2060,2080,2100,2120,2140,2160,2180,2200,2220,2240], "tickSize": 4, "offset": -4, "labels": false, "title": null}}}},
{"data": {"values": [{}]},
 "mark": {"type": "text", "text": ""},
 "encoding": {
  "x": {"datum": 434, "type": "quantitative", "axis": null},
  "y": {"datum": 2257, "type": "quantitative", "axis": {"orient": "right", "values": [1840,1860,1880,1900,1920,1940,1960,1980,2000,2020,2040,2060,2080,2100,2120,2140,2160,2180,2200,2220,2240], "tickSize": 4, "offset": -4, "labels": false, "title": null}}}}
],
"resolve": {"axis": {"x": "independent", "y": "independent"}}
}
],
"config": {
 "view": {"stroke": "#111", "strokeWidth": 1.5},
 "axis": {"grid": false, "domain": false, "tickColor": "#000", "tickWidth": 1, "labelFont": "Liberation Sans", "labelFontSize": 15, "labelColor": "#000", "titleFont": "Liberation Sans", "titleFontSize": 15, "titleFontWeight": "normal", "titleColor": "#000"}
}
}
